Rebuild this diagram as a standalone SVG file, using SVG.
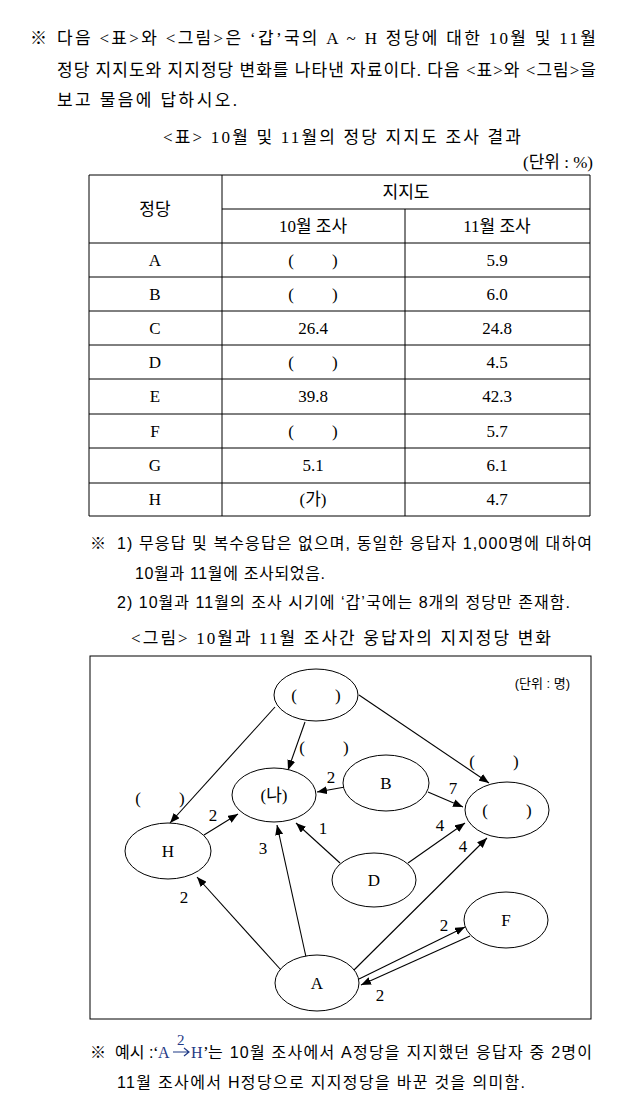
<svg xmlns="http://www.w3.org/2000/svg" width="624" height="1105" viewBox="0 0 624 1105">
<style>
.s{font-family:"Liberation Serif","Noto Sans CJK KR",serif;font-size:17px;fill:#000}
.t{font-family:"Liberation Serif","Noto Sans CJK KR",serif;font-size:17px;fill:#000;text-anchor:middle}
.g{font-family:"Liberation Sans","Noto Sans CJK KR",sans-serif;font-size:16px;fill:#000}
.lbl{font-family:"Liberation Serif","Noto Sans CJK KR",serif;font-size:17px;fill:#000;text-anchor:middle}
.node ellipse{fill:#fff;stroke:#000;stroke-width:1}
.grid line{stroke:#000;stroke-width:1}
.conn line{stroke:#000;stroke-width:1.1;marker-end:url(#ah)}
.blue{fill:#1f3a86}
</style>
<defs>
<marker id="ah" viewBox="0 0 10 8" refX="10" refY="4" markerWidth="10" markerHeight="8" markerUnits="userSpaceOnUse" orient="auto">
<path d="M0,0 L10,4 L0,8 z" fill="#000"/>
</marker>
</defs>
<rect width="624" height="1105" fill="#fff"/>

<g id="intro">
<text class="s" x="30" y="44">※</text>
<text class="s" x="57" y="44" textLength="539" lengthAdjust="spacing">다음 &lt;표&gt;와 &lt;그림&gt;은 ‘갑’국의 A ~ H 정당에 대한 10월 및 11월</text>
<text class="s" x="57" y="76" textLength="539" lengthAdjust="spacing">정당 지지도와 지지정당 변화를 나타낸 자료이다. 다음 &lt;표&gt;와 &lt;그림&gt;을</text>
<text class="s" x="57" y="106" textLength="180" lengthAdjust="spacing">보고 물음에 답하시오.</text>
<text class="s" x="163" y="143" textLength="358" lengthAdjust="spacing">&lt;표&gt; 10월 및 11월의 정당 지지도 조사 결과</text>
<text class="s" x="593" y="168" text-anchor="end">(단위 : %)</text>
</g>

<g id="table">
<g class="grid">
<line x1="89" y1="175" x2="590" y2="175"/>
<line x1="222" y1="209" x2="590" y2="209"/>
<line x1="89" y1="243" x2="590" y2="243"/>
<line x1="89" y1="277" x2="590" y2="277"/>
<line x1="89" y1="311" x2="590" y2="311"/>
<line x1="89" y1="345" x2="590" y2="345"/>
<line x1="89" y1="379" x2="590" y2="379"/>
<line x1="89" y1="414" x2="590" y2="414"/>
<line x1="89" y1="448" x2="590" y2="448"/>
<line x1="89" y1="483" x2="590" y2="483"/>
<line x1="89" y1="516" x2="590" y2="516"/>
<line x1="89" y1="175" x2="89" y2="516"/>
<line x1="222" y1="175" x2="222" y2="516"/>
<line x1="405" y1="209" x2="405" y2="516"/>
<line x1="590" y1="175" x2="590" y2="516"/>
</g>
<text class="t" x="155" y="215">정당</text>
<text class="t" x="406" y="198">지지도</text>
<text class="t" x="313" y="232">10월 조사</text>
<text class="t" x="497" y="232">11월 조사</text>

<text class="t" x="155" y="266">A</text>
<text class="t" x="313" y="266" xml:space="preserve">(         )</text>
<text class="t" x="497" y="266">5.9</text>

<text class="t" x="155" y="300">B</text>
<text class="t" x="313" y="300" xml:space="preserve">(         )</text>
<text class="t" x="497" y="300">6.0</text>

<text class="t" x="155" y="334">C</text>
<text class="t" x="313" y="334">26.4</text>
<text class="t" x="497" y="334">24.8</text>

<text class="t" x="155" y="368">D</text>
<text class="t" x="313" y="368" xml:space="preserve">(         )</text>
<text class="t" x="497" y="368">4.5</text>

<text class="t" x="155" y="402">E</text>
<text class="t" x="313" y="402">39.8</text>
<text class="t" x="497" y="402">42.3</text>

<text class="t" x="155" y="437">F</text>
<text class="t" x="313" y="437" xml:space="preserve">(         )</text>
<text class="t" x="497" y="437">5.7</text>

<text class="t" x="155" y="471">G</text>
<text class="t" x="313" y="471">5.1</text>
<text class="t" x="497" y="471">6.1</text>

<text class="t" x="155" y="505">H</text>
<text class="t" x="313" y="505">(가)</text>
<text class="t" x="497" y="505">4.7</text>
</g>

<g id="notes">
<text class="g" x="90" y="549">※</text>
<text class="g" x="117" y="549" textLength="475" lengthAdjust="spacing">1) 무응답 및 복수응답은 없으며, 동일한 응답자 1,000명에 대하여</text>
<text class="g" x="135" y="579" textLength="190" lengthAdjust="spacing">10월과 11월에 조사되었음.</text>
<text class="g" x="117" y="608" textLength="453" lengthAdjust="spacing">2) 10월과 11월의 조사 시기에 ‘갑’국에는 8개의 정당만 존재함.</text>
</g>

<g id="figure-title">
<text class="s" x="131" y="644" textLength="420" lengthAdjust="spacing">&lt;그림&gt; 10월과 11월 조사간 웅답자의 지지정당 변화</text>
</g>

<g id="frame">
<rect x="90" y="656" width="501" height="363" fill="none" stroke="#000" stroke-width="1"/>
<text class="g" x="570" y="688" text-anchor="end" style="font-size:13px">(단위 : 명)</text>
</g>

<g id="connectors" class="conn">
<line x1="275" y1="707" x2="170" y2="823"/>
<line x1="305" y1="722" x2="288" y2="770"/>
<line x1="359" y1="695" x2="489" y2="783"/>
<line x1="345" y1="787" x2="317" y2="792"/>
<line x1="428" y1="792" x2="463" y2="807"/>
<line x1="204" y1="835" x2="238" y2="814"/>
<line x1="340" y1="863" x2="296" y2="823"/>
<line x1="408" y1="863" x2="465" y2="823"/>
<line x1="306" y1="957" x2="277" y2="825"/>
<line x1="281" y1="970" x2="197" y2="877"/>
<line x1="354" y1="970" x2="487" y2="838"/>
<line x1="359" y1="979" x2="465" y2="927"/>
<line x1="470" y1="936" x2="361" y2="985"/>
</g>

<g id="edge-labels">
<text class="lbl" x="324" y="753" xml:space="preserve">(         )</text>
<text class="lbl" x="494" y="767" xml:space="preserve">(         )</text>
<text class="lbl" x="160" y="804" xml:space="preserve">(         )</text>
<text class="lbl" x="331" y="783">2</text>
<text class="lbl" x="453" y="794">7</text>
<text class="lbl" x="213" y="821">2</text>
<text class="lbl" x="323" y="834">1</text>
<text class="lbl" x="440" y="831">4</text>
<text class="lbl" x="263" y="854">3</text>
<text class="lbl" x="463" y="852">4</text>
<text class="lbl" x="184" y="903">2</text>
<text class="lbl" x="444" y="931">2</text>
<text class="lbl" x="380" y="1001">2</text>
</g>

<g id="node-top" class="node"><ellipse cx="316" cy="695" rx="42" ry="26"/><text class="lbl" x="316" y="701" xml:space="preserve">(         )</text></g>
<g id="node-na" class="node"><ellipse cx="274" cy="795" rx="42" ry="27"/><text class="lbl" x="274" y="801">(나)</text></g>
<g id="node-B" class="node"><ellipse cx="386" cy="783" rx="43" ry="28"/><text class="lbl" x="386" y="789">B</text></g>
<g id="node-right" class="node"><ellipse cx="507" cy="810" rx="42" ry="28"/><text class="lbl" x="507" y="816" xml:space="preserve">(         )</text></g>
<g id="node-H" class="node"><ellipse cx="168" cy="851" rx="43" ry="28"/><text class="lbl" x="168" y="857">H</text></g>
<g id="node-D" class="node"><ellipse cx="374" cy="880" rx="42" ry="27"/><text class="lbl" x="374" y="886">D</text></g>
<g id="node-F" class="node"><ellipse cx="506" cy="920" rx="42" ry="28"/><text class="lbl" x="506" y="926">F</text></g>
<g id="node-A" class="node"><ellipse cx="317" cy="983" rx="42" ry="28"/><text class="lbl" x="317" y="989">A</text></g>

<g id="example">
<text class="g" x="90" y="1058">※</text>
<text class="g" x="115" y="1058">예시 :</text>
<text class="s" x="153" y="1058">‘</text>
<text class="s blue" x="158" y="1058" style="font-size:16px">A</text>
<text class="s blue" x="177" y="1045" style="font-size:15px">2</text>
<path d="M173,1052 H189 M184,1048 L189,1052 L184,1056" fill="none" stroke="#1f3a86" stroke-width="1.2"/>
<text class="s blue" x="191" y="1058" style="font-size:16px">H</text>
<text class="s" x="203" y="1058">’</text>
<text class="g" x="208" y="1058" textLength="384" lengthAdjust="spacing">는 10월 조사에서 A정당을 지지했던 응답자 중 2명이</text>
<text class="g" x="117" y="1088" textLength="408" lengthAdjust="spacing">11월 조사에서 H정당으로 지지정당을 바꾼 것을 의미함.</text>
</g>
</svg>
